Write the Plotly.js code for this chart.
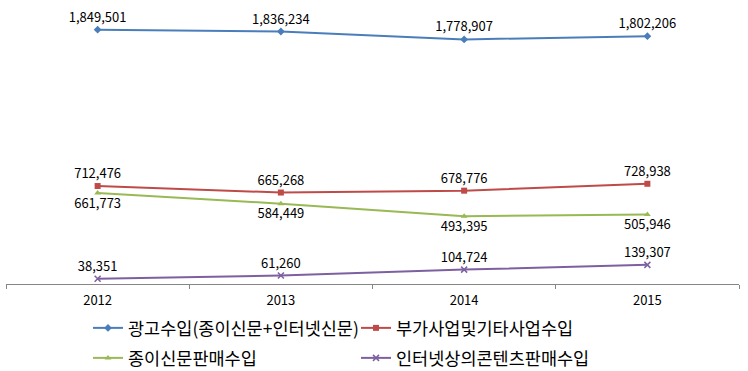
<!DOCTYPE html>
<html>
<head>
<meta charset="utf-8">
<script src="https://cdn.plot.ly/plotly-3.0.1.min.js"></script>
<style>html,body{margin:0;padding:0;background:#fff;}#chart{width:748px;height:371px;}</style>
</head>
<body>
<div id="chart"></div>
<script>
var years = ['2012', '2013', '2014', '2015'];
var adRevenue = [1849501, 1836234, 1778907, 1802206];
var sideRevenue = [712476, 665268, 678776, 728938];
var paperSales = [661773, 584449, 493395, 505946];
var onlineContent = [38351, 61260, 104724, 139307];
var seriesNames = ['광고수입(종이신문+인터넷신문)', '부가사업및기타사업수입', '종이신문판매수입', '인터넷상의콘텐츠판매수입'];

var FONT = '"Noto Sans CJK KR", "Noto Sans", sans-serif';
function fmt(v) { return v.toLocaleString('en-US'); }

function mk(y, name, color, symbol, pos, leg) {
  return {
    x: years, y: y, name: name, type: 'scatter', mode: 'lines+markers+text',
    legend: leg,
    line: {color: color, width: 2},
    marker: {color: color, symbol: symbol, size: 6, line: {color: color, width: symbol === 'x-thin' ? 1.5 : 0}},
    text: y.map(fmt), textposition: pos,
    textfont: {family: FONT, size: 13, color: '#000'},
    cliponaxis: false
  };
}

var data = [
  mk(adRevenue, seriesNames[0], '#4A7EBB', 'diamond', 'top center', 'legend'),
  mk(sideRevenue, seriesNames[1], '#BE4B48', 'square', 'top center', 'legend'),
  mk(paperSales, seriesNames[2], '#98B954', 'triangle-up', 'bottom center', 'legend2'),
  mk(onlineContent, seriesNames[3], '#7D60A0', 'x-thin', 'top center', 'legend2')
];

function legendBox(yTop) {
  return {
    orientation: 'h', xref: 'container', yref: 'container',
    x: 88 / 748, xanchor: 'left', y: 1 - yTop / 371, yanchor: 'top',
    entrywidth: 223, entrywidthmode: 'pixels',
    font: {family: FONT, size: 17.5, color: '#000'},
    itemwidth: 30, bgcolor: 'rgba(0,0,0,0)', borderwidth: 0
  };
}

var layout = {
  width: 748, height: 371,
  margin: {l: 6, r: 9, t: 9, b: 87},
  paper_bgcolor: '#fff', plot_bgcolor: '#fff',
  font: {family: FONT, color: '#000'},
  showlegend: true,
  legend: legendBox(310),
  legend2: legendBox(340),
  xaxis: {
    type: 'category', showgrid: false, zeroline: false,
    showline: true, linecolor: '#868686', linewidth: 1,
    ticks: 'outside', ticklen: 4, tickcolor: '#868686', tickson: 'boundaries',
    ticklabelstandoff: 4,
    tickfont: {family: FONT, size: 13, color: '#000'},
    range: [-0.5, 3.5], automargin: false
  },
  yaxis: {
    range: [0, 2000000], visible: false, showgrid: false, zeroline: false
  }
};

Plotly.newPlot('chart', data, layout, {displayModeBar: false, staticPlot: true});
</script>
</body>
</html>
